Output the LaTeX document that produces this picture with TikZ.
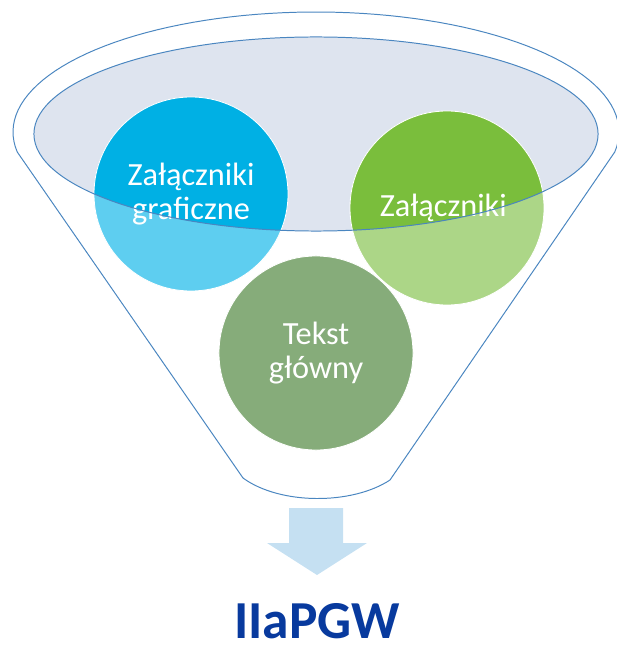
\documentclass[tikz,border=0pt]{standalone}
\usepackage{fontspec}
\setmainfont{Carlito}
\usetikzlibrary{shapes.geometric}

\definecolor{bowlfill}{RGB}{222,228,239}
\definecolor{funnelline}{RGB}{74,134,192}
\definecolor{blueDk}{RGB}{0,176,228}
\definecolor{blueLt}{RGB}{94,206,240}
\definecolor{greenDk}{RGB}{122,190,60}
\definecolor{greenLt}{RGB}{172,214,135}
\definecolor{sage}{RGB}{134,172,122}
\definecolor{arrowfill}{RGB}{197,224,242}
\definecolor{titleblue}{RGB}{8,58,158}

\tikzset{
  bubble/.style={circle, minimum size=4.85cm, inner sep=0pt, draw=white,
    line width=0.6pt, text=white, align=center,
    font=\fontsize{23}{24}\selectfont},
  twotone/.style 2 args={path picture={
    \fill[#1] (path picture bounding box.south west)
      rectangle (path picture bounding box.north east);
    \clip (bowl.center) ellipse[x radius=7.05cm, y radius=2.425cm];
    \fill[#2] (path picture bounding box.south west)
      rectangle (path picture bounding box.north east);
  }},
  rim/.style={draw=funnelline, line width=0.7pt}
}

\begin{document}
\begin{tikzpicture}[x=0.025cm, y=-0.025cm]
   \useasboundingbox (0,0) rectangle (616,648);
   % top of the funnel
   \node[ellipse, minimum width=14.1cm, minimum height=4.85cm, inner sep=0pt,
     fill=bowlfill] (bowl) at (316,134) {};
   \foreach \nm/\px/\py/\lt/\dk/\txt in
     { graf/191/194/blueLt/blueDk/{Załączniki\\graficzne},
       zal/447/208/greenLt/greenDk/{Załączniki}
     }
     \node[bubble, twotone={\lt}{\dk}] (\nm) at (\px,\py) {\txt};
   \node[bubble, fill=sage] (tekst) at (316,353) {Tekst\\główny};
   \draw[rim] (bowl.center) ellipse[x radius=7.05cm, y radius=2.425cm];
   \draw[rim] plot[domain=170.4:369.6, samples=80]
       ({316+303*cos(\x)},{132+120*sin(\x)})
     -- (390,480) .. controls (352,505) and (280,505) .. (243,478) -- cycle;
   % output
   \fill[arrowfill] (289,508) -- (343,508) -- (343,543) -- (367,543)
     -- (317,575) -- (267,543) -- (289,543) -- cycle;
   \node[inner sep=0pt, font=\fontsize{38}{40}\selectfont\bfseries,
     text=titleblue] (wynik) at (317,621) {IIaPGW};
\end{tikzpicture}
\end{document}
